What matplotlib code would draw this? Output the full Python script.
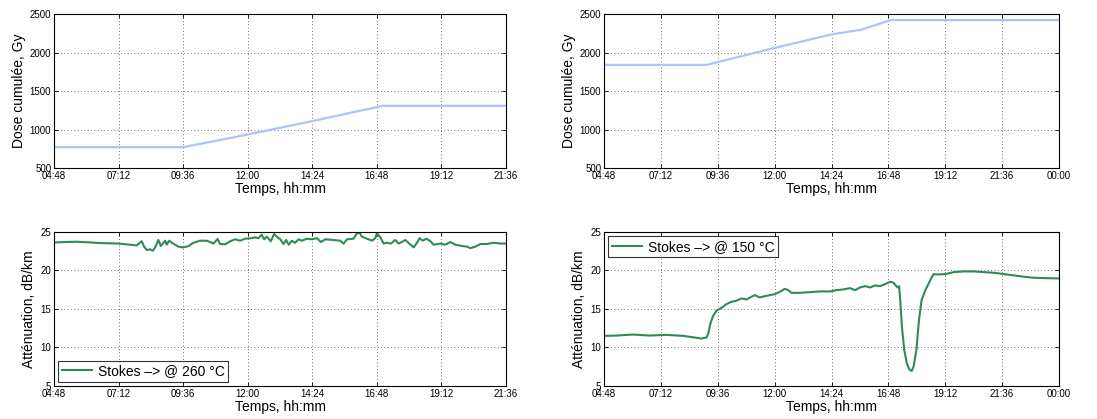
import matplotlib
matplotlib.use("Agg")
import matplotlib.pyplot as plt
from matplotlib.ticker import FuncFormatter
import numpy as np

plt.rcParams['font.family'] = ['Liberation Sans', 'DejaVu Sans']

# dose cumulee (Gy) vs heure
dose1_t = [4.8, 9.6, 12.0, 14.4, 17.03, 21.6]
dose1_v = [770, 770, 935, 1110, 1308, 1308]
dose2_t = [4.8, 9.13, 12.0, 14.4, 15.3, 15.6, 16.9, 24.0]
dose2_v = [1840, 1840, 2060, 2235, 2280, 2292, 2422, 2422]

# attenuation @ 260 C
att1_t = [4.84, 5.64, 6.51, 7.19, 7.63, 7.88, 8.06, 8.15, 8.25, 8.37, 8.47, 8.56,
          8.68, 8.77, 8.87, 8.93, 8.99, 9.08, 9.18, 9.30, 9.42, 9.61, 9.80, 9.98,
          10.23, 10.48, 10.73, 10.88, 10.97, 11.16, 11.35, 11.53, 11.72, 11.90,
          12.09, 12.28, 12.40, 12.52, 12.61, 12.71, 12.86, 12.98, 13.08, 13.21,
          13.33, 13.43, 13.52, 13.64, 13.76, 13.89, 14.01, 14.20, 14.38, 14.57,
          14.72, 14.88, 15.19, 15.44, 15.56, 15.69, 15.93, 16.06, 16.16, 16.24,
          16.43, 16.62, 16.74, 16.80, 16.93, 17.05, 17.17, 17.32, 17.48, 17.61,
          17.73, 17.86, 18.02, 18.17, 18.29, 18.39, 18.51, 18.64, 18.79, 18.91,
          19.16, 19.34, 19.53, 19.72, 19.96, 20.15, 20.27, 20.46, 20.65, 20.89,
          21.14, 21.39, 21.60]
att1_v = [23.65, 23.74, 23.57, 23.5, 23.35, 23.26, 23.8, 23.1, 22.66, 22.75, 22.57, 23.0,
          23.96, 23.18, 23.6, 23.87, 23.35, 23.87, 23.6, 23.35, 23.1, 23.0, 23.18, 23.6,
          23.87, 23.87, 23.5, 24.1, 23.44, 23.4, 23.8, 24.05, 23.87, 24.13,
          24.18, 24.3, 24.2, 24.65, 24.05, 24.4, 23.8, 24.74, 24.4, 24.05,
          23.44, 23.96, 23.35, 23.87, 23.6, 24.05, 23.87, 24.13, 24.05, 24.2,
          23.7, 24.05, 23.96, 23.87, 23.5, 24.05, 24.13, 24.83, 24.9, 24.4,
          24.13, 23.87, 24.2, 24.83, 24.3, 23.5, 23.6, 23.5, 23.96, 23.5,
          23.7, 23.96, 23.44, 23.0, 23.6, 24.2, 23.87, 24.13, 23.8, 23.35,
          23.5, 23.35, 23.7, 23.35, 23.18, 23.1, 22.9, 23.1, 23.44, 23.44,
          23.6, 23.5, 23.5]

# attenuation @ 150 C
att2_t = [4.83, 5.34, 6.01, 6.72, 7.42, 8.13, 8.55, 8.9, 9.12, 9.2, 9.29, 9.4, 9.54,
          9.68, 9.82, 9.96, 10.17, 10.39, 10.6, 10.81, 11.02, 11.16, 11.37, 11.59,
          11.8, 12.01, 12.22, 12.43, 12.57, 12.71, 13.07, 13.49, 13.91, 14.34,
          14.62, 14.9, 15.18, 15.39, 15.61, 15.82, 16.03, 16.24, 16.45, 16.66,
          16.88, 17.02, 17.13, 17.19, 17.25, 17.3, 17.37, 17.47, 17.58, 17.69,
          17.78, 17.86, 17.98, 18.09, 18.2, 18.36, 18.5, 18.64, 18.71, 18.92,
          19.2, 19.56, 19.98, 20.4, 20.83, 21.25, 21.67, 22.1, 22.52, 22.94,
          23.37, 24.0]
att2_v = [11.51, 11.55, 11.68, 11.55, 11.64, 11.51, 11.33, 11.16, 11.29, 11.81, 13.11, 14.07, 14.76,
          15.02, 15.28, 15.63, 15.93, 16.07, 16.37, 16.24, 16.58, 16.8, 16.5, 16.67,
          16.8, 16.93, 17.23, 17.62, 17.45, 17.1, 17.1, 17.19, 17.28, 17.28,
          17.45, 17.54, 17.71, 17.45, 17.8, 17.97, 17.8, 18.06, 17.97, 18.23,
          18.54, 18.41, 17.97, 17.8, 17.97, 16.15, 12.68, 9.64, 7.91, 7.13,
          6.95, 7.47, 9.64, 13.55, 16.15, 17.45, 18.32, 19.19, 19.53, 19.49,
          19.53, 19.79, 19.88, 19.88, 19.79, 19.71, 19.53, 19.36, 19.19, 19.06,
          19.01, 18.97]

labels = ["Stokes \u2013> @ 260 \u00b0C", "Stokes \u2013> @ 150 \u00b0C"]
blue = "#aec3fc"
green = "#2e8b57"


def hhmm(x, pos):
    m = int(round(x * 60)) % (24 * 60)
    return "%02d:%02d" % (m // 60, m % 60)


def style(ax, xmax, ylim, yticks, ylabel):
    ax.set_xlim(4.8, xmax)
    ax.set_xticks(np.arange(4.8, xmax + 0.01, 2.4))
    ax.xaxis.set_major_formatter(FuncFormatter(hhmm))
    ax.set_ylim(*ylim)
    ax.set_yticks(yticks)
    ax.grid(True, linestyle=(0, (1, 3)), color="#444444", linewidth=0.6)
    ax.tick_params(direction="in", top=True, right=True, labelsize=7, length=3, width=0.6, pad=2)
    for s in ax.spines.values():
        s.set_linewidth(0.8)
    ax.set_xlabel("Temps, hh:mm", fontsize=10, labelpad=1)
    ax.set_ylabel(ylabel, fontsize=10, labelpad=3)


fig = plt.figure(figsize=(10.97, 4.19), dpi=100)
ax1 = fig.add_axes([0.0492, 0.599, 0.4121, 0.3675])
ax2 = fig.add_axes([0.5506, 0.599, 0.4148, 0.3675])
ax3 = fig.add_axes([0.0492, 0.0788, 0.4121, 0.3675])
ax4 = fig.add_axes([0.5506, 0.0788, 0.4148, 0.3675])

ax1.plot(dose1_t, dose1_v, color=blue, lw=1.6)
style(ax1, 21.6, (500, 2500), [500, 1000, 1500, 2000, 2500], "Dose cumul\u00e9e, Gy")

ax2.plot(dose2_t, dose2_v, color=blue, lw=1.6)
style(ax2, 24.0, (500, 2500), [500, 1000, 1500, 2000, 2500], "Dose cumul\u00e9e, Gy")

ax3.plot(att1_t, att1_v, color=green, lw=1.5, label=labels[0])
style(ax3, 21.6, (5, 25), [5, 10, 15, 20, 25], "Att\u00e9nuation, dB/km")
leg = ax3.legend(loc="lower left", fontsize=10, fancybox=False, edgecolor="black",
                 handlelength=2.2, borderpad=0.25, borderaxespad=0.3, handletextpad=0.4)
leg.get_frame().set_linewidth(0.8)

ax4.plot(att2_t, att2_v, color=green, lw=1.5, label=labels[1])
style(ax4, 24.0, (5, 25), [5, 10, 15, 20, 25], "Att\u00e9nuation, dB/km")
leg = ax4.legend(loc="upper left", fontsize=10, fancybox=False, edgecolor="black",
                 handlelength=2.2, borderpad=0.25, borderaxespad=0.3, handletextpad=0.4)
leg.get_frame().set_linewidth(0.8)

fig.savefig("out.png", dpi=100)
